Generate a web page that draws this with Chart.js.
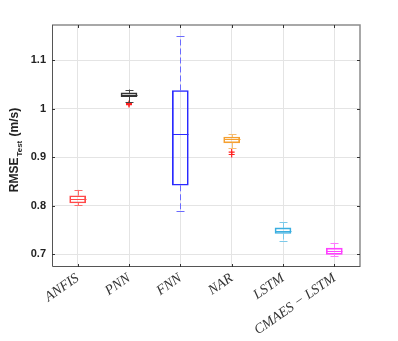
<!DOCTYPE html>
<html>
<head>
<meta charset="utf-8">
<script src="https://cdn.jsdelivr.net/npm/chart.js@4.4.1/dist/chart.umd.min.js"></script>
<style>
  html, body { margin: 0; padding: 0; background: #fff; }
  #wrap { width: 398px; height: 341px; }
</style>
</head>
<body>
<div id="wrap"><canvas id="c"></canvas></div>
<script>
// box statistics
const models = ['ANFIS', 'PNN', 'FNN', 'NAR', 'LSTM', 'CMAES \u2212 LSTM'];
const whiskerLow = [0.801, 1.014, 0.790, 0.919, 0.7285, 0.696];
const quart1 = [0.806, 1.025, 0.8425, 0.930, 0.743, 0.700];
const medians = [0.814, 1.028, 0.949, 0.937, 0.749, 0.707];
const quart3 = [0.821, 1.033, 1.038, 0.942, 0.7546, 0.713];
const whiskerHigh = [0.833, 1.040, 1.150, 0.948, 0.766, 0.724];
const outlierModel = ['PNN', 'PNN', 'NAR', 'NAR'];
const outlierValue = [1.011, 1.009, 0.911, 0.906];
const yTicks = [0.7, 0.8, 0.9, 1.0, 1.1];

const colors = ['#ff4a4a', '#333333', '#2a2aff', '#f5a030', '#3aaee0', '#ff40ff'];
const whiskerColors = ['#ff6a6a', '#444444', '#6a6aff', '#f8bd70', '#7ccaea', '#ff77ff'];

// whiskers, caps and medians
const boxParts = {
  id: 'boxParts',
  afterDatasetsDraw(chart) {
    const { ctx, scales: { x, y } } = chart;
    ctx.save();
    ctx.lineWidth = 1;
    models.forEach((m, i) => {
      const px = Math.round(x.getPixelForValue(i)) + 0.5;
      const half = 8, cap = 4;
      ctx.strokeStyle = whiskerColors[i];
      ctx.setLineDash([6, 3]);
      ctx.beginPath();
      ctx.moveTo(px, y.getPixelForValue(quart3[i]));
      ctx.lineTo(px, y.getPixelForValue(whiskerHigh[i]));
      ctx.moveTo(px, y.getPixelForValue(quart1[i]));
      ctx.lineTo(px, y.getPixelForValue(whiskerLow[i]));
      ctx.stroke();
      ctx.setLineDash([]);
      ctx.beginPath();
      const yh = Math.round(y.getPixelForValue(whiskerHigh[i])) + 0.5;
      const yl = Math.round(y.getPixelForValue(whiskerLow[i])) + 0.5;
      ctx.moveTo(px - cap, yh); ctx.lineTo(px + cap, yh);
      ctx.moveTo(px - cap, yl); ctx.lineTo(px + cap, yl);
      ctx.stroke();
      ctx.strokeStyle = colors[i];
      ctx.beginPath();
      const ym = Math.round(y.getPixelForValue(medians[i])) + 0.5;
      ctx.moveTo(px - half, ym); ctx.lineTo(px + half, ym);
      ctx.stroke();
    });
    ctx.restore();
  }
};

// axes box with inward ticks, and the y title with subscript
const frame = {
  id: 'frame',
  afterDraw(chart) {
    const { ctx, chartArea: a, scales: { x, y } } = chart;
    ctx.save();
    ctx.strokeStyle = '#8c8c8c';
    ctx.lineWidth = 1.5;
    ctx.beginPath();
    ctx.moveTo(a.left, a.top); ctx.lineTo(a.right, a.top); ctx.lineTo(a.right, a.bottom);
    ctx.stroke();
    ctx.strokeStyle = '#555';
    ctx.lineWidth = 1;
    ctx.beginPath();
    ctx.moveTo(a.left + 0.5, a.top); ctx.lineTo(a.left + 0.5, a.bottom - 0.5); ctx.lineTo(a.right, a.bottom - 0.5);
    ctx.stroke();
    ctx.strokeStyle = '#333';
    ctx.beginPath();
    models.forEach((m, i) => {
      const px = Math.round(x.getPixelForValue(i)) + 0.5;
      ctx.moveTo(px, a.top); ctx.lineTo(px, a.top + 3);
      ctx.moveTo(px, a.bottom); ctx.lineTo(px, a.bottom - 3);
    });
    yTicks.forEach(v => {
      const py = Math.round(y.getPixelForValue(v)) + 0.5;
      ctx.moveTo(a.right, py); ctx.lineTo(a.right - 3, py);
      ctx.moveTo(a.left, py); ctx.lineTo(a.left + 3, py);
    });
    ctx.stroke();

    ctx.translate(18, (a.top + a.bottom) / 2 + 4);
    ctx.rotate(-Math.PI / 2);
    ctx.fillStyle = '#222';
    ctx.textBaseline = 'alphabetic';
    const big = 'bold 12px "Liberation Sans", Arial, sans-serif';
    const small = 'bold 8px "Liberation Sans", Arial, sans-serif';
    ctx.font = big;
    const w1 = ctx.measureText('RMSE').width;
    const w3 = ctx.measureText(' (m/s)').width;
    ctx.font = small;
    const w2 = ctx.measureText('Test').width;
    let sx = -(w1 + w2 + w3 + 2) / 2;
    ctx.font = big;
    ctx.fillText('RMSE', sx, 0);
    sx += w1 + 1;
    ctx.font = small;
    ctx.fillText('Test', sx, 4);
    sx += w2 + 1;
    ctx.font = big;
    ctx.fillText(' (m/s)', sx, 0);
    ctx.restore();
  }
};

new Chart(document.getElementById('c'), {
  type: 'bar',
  data: {
    labels: models,
    datasets: [
      {
        type: 'bar',
        data: models.map((m, i) => [quart1[i], quart3[i]]),
        backgroundColor: 'rgba(255,255,255,0)',
        borderColor: colors,
        borderWidth: 1,
        borderSkipped: false,
        barThickness: 16
      },
      {
        type: 'line',
        data: outlierModel.map((m, i) => ({ x: m, y: outlierValue[i] })),
        showLine: false,
        pointStyle: 'cross',
        pointRadius: 3,
        pointBorderWidth: 1.2,
        pointBorderColor: '#ff2020',
        borderColor: '#ff2020'
      }
    ]
  },
  options: {
    responsive: true,
    maintainAspectRatio: false,
    animation: false,
    layout: { padding: { left: 0, right: 38, top: 25, bottom: 0 } },
    plugins: { legend: { display: false }, tooltip: { enabled: false } },
    scales: {
      x: {
        offset: true,
        grid: { offset: false, color: '#e4e4e4', drawTicks: false },
        border: { display: false },
        afterFit(s) { s.height = 74; },
        ticks: {
          color: '#333',
          maxRotation: 35,
          minRotation: 35,
          padding: 3,
          font: { family: '"Liberation Serif", "DejaVu Serif", serif', style: 'italic', size: 14 }
        }
      },
      y: {
        min: 0.674,
        max: 1.173,
        afterFit(s) { s.width = 52; },
        afterBuildTicks(s) { s.ticks = yTicks.map(v => ({ value: v })); },
        grid: { color: '#e4e4e4', drawTicks: false },
        border: { display: false },
        ticks: {
          color: '#222',
          padding: 6,
          font: { family: '"Liberation Sans", Arial, sans-serif', weight: 'bold', size: 11 },
          callback: v => String(Math.round(v * 10) / 10)
        }
      }
    }
  },
  plugins: [boxParts, frame]
});
</script>
</body>
</html>
